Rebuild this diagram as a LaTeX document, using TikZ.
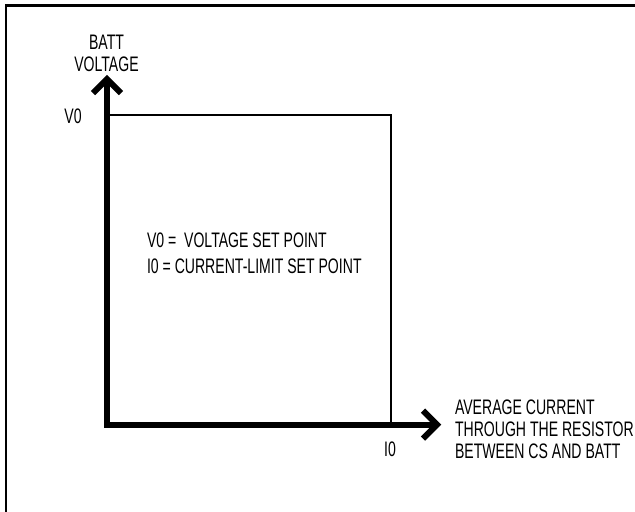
\documentclass[tikz,border=0pt]{standalone}
\usepackage{fontspec}
\setmainfont{Liberation Sans}[FakeStretch=0.67]
\begin{document}
\begin{tikzpicture}[x=0.5pt,y=-0.5pt,
  frameline/.style={line width=1.25pt},
  axisline/.style={line width=3pt,line join=miter,line cap=butt},
  thinline/.style={line width=0.6pt},
  lbl/.style={inner sep=0pt,outer sep=0pt,font=\fontsize{10.5}{11}\selectfont}]
\useasboundingbox (0,0) rectangle (635,511);
% frame (only top and left edges visible)
\coordinate (fTR) at (636,5.5);
\coordinate (fTL) at (6.2,5.5);
\coordinate (fBL) at (6.2,512);
\draw[frameline] (fTR) -- (fTL) -- (fBL);
% axes
\coordinate (O) at (107,424.5);
\coordinate (yT) at (107,79);
\coordinate (xT) at (437,424.5);
\coordinate (yA1) at (93,93);
\coordinate (yA2) at (121,93);
\coordinate (xA1) at (423,410.5);
\coordinate (xA2) at (423,438.5);
% thin set-point rectangle
\coordinate (V0pt) at (107,115);
\coordinate (C) at (391,115);
\coordinate (I0pt) at (391,424.5);
\draw[thinline] (V0pt) -- (C) -- (I0pt);
\draw[axisline] (yT) -- (O) -- (xT);
\draw[axisline] (yA1) -- (yT) -- (yA2);
\draw[axisline] (xA1) -- (xT) -- (xA2);
% labels
\node[lbl,align=center] (ylab) at (106.5,53.5) {BATT\\VOLTAGE};
\node[lbl] (v0) at (73,116) {V0};
\node[lbl] (i0) at (390,449) {I0};
\node[lbl,align=left,anchor=west,font=\fontsize{10.5}{13}\selectfont] (legend) at (147,253.5) {V0 =\ \ VOLTAGE SET POINT\\I0 = CURRENT-LIMIT SET POINT};
\node[lbl,align=left,anchor=west] (xlab) at (455,429.5) {AVERAGE CURRENT\\THROUGH THE RESISTOR\\BETWEEN CS AND BATT};
\end{tikzpicture}
\end{document}
